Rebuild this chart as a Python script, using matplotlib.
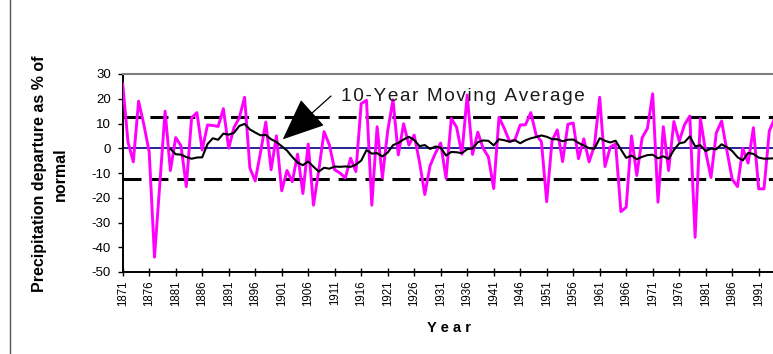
import numpy as np
import pandas as pd
import matplotlib
matplotlib.use('Agg')
import matplotlib.pyplot as plt
from matplotlib.lines import Line2D

# annual precipitation departure (% of normal), 1871-1994
years = list(range(1871, 1995))
departure = [
    26, 2.5, -5.5, 19, 9.5, -1.5, -44, -14.5, 15, -9,            # 1871-1880
    4.3, 1, -15.5, 12.3, 14.4, -0.7, 9.4, 9.2, 8.8, 16,          # 1881-1890
    0, 8.4, 12.3, 20.6, -8, -13.2, -1.7, 10.6, -8.7, 5,          # 1891-1900
    -17.2, -9, -13.5, -2.4, -18.3, 1.7, -23, -8.8, 6.7, 1.3,     # 1901-1910
    -8.7, -10, -12, -4, -9.4, 18, 19.4, -23, 8.7, -12,           # 1911-1920
    7, 19.6, -2.7, 9.9, 1.3, 5.3, -5.5, -18.7, -7, -2,           # 1921-1930
    2.1, -12.2, 12, 8.5, -2.4, 21.5, -2.5, 6.5, 0, -3.5,         # 1931-1940
    -16.3, 12.5, 8, 2.7, 3.4, 9.4, 9.5, 14.4, 5.4, 2.7,          # 1941-1950
    -21.6, 3, 7.4, -5.4, 9.7, 10.2, -4.2, 3.8, -5.5, 1,          # 1951-1960
    20.6, -7.4, 0.5, 1.8, -25.6, -23.8, 5, -11, 4.2, 8,          # 1961-1970
    22, -21.8, 8.7, -9, 10.8, 2.8, 9.5, 13, -36, 12,             # 1971-1980
    -1.5, -11.8, 6.2, 11, -1, -12.5, -15.5, 0, -6, 8.3,          # 1981-1990
    -16.4, -16.4, 7, 12,                                         # 1991-1994
]
band = 12.5          # dashed reference lines at +/- this value
ma_window = 10       # 10-year moving average
xtick_years = list(range(1871, 1992, 5))
yticks = list(range(-50, 31, 10))
ma_label = '10-Year Moving Average'

plt.rcParams['font.family'] = 'Liberation Sans'

df = pd.DataFrame({'year': years, 'dep': departure})
df['ma'] = df['dep'].rolling(ma_window).mean()

W, H = 773, 354
fig = plt.figure(figsize=(W / 100, H / 100), dpi=100)
ax = fig.add_axes([122.7 / W, 82 / H, 651.9 / W, 198 / H])

ax.axhline(0, color='#000080', lw=1.2, zorder=1)
for v in (band, -band):
    ax.axhline(v, color='black', lw=2.2, dashes=(5.9, 2.9), zorder=2)
ax.plot(df['year'], df['dep'], color='#FF00FF', lw=2.1, zorder=3)
ax.plot(df['year'], df['ma'], color='black', lw=1.5, zorder=4)

ax.annotate('', xy=(1901.2, 3.6), xytext=(1910.3, 21.1),
            arrowprops=dict(arrowstyle='-|>,head_length=2.7,head_width=1.15',
                            mutation_scale=10, color='black', lw=0.9,
                            shrinkA=0, shrinkB=0), zorder=5)
# spaced out a little, like the original
ax.text(1912.2, 21.0, '\u200a'.join(ma_label), ha='left', va='center',
        fontsize=13.7, family=['Liberation Sans', 'DejaVu Sans'],
        color='#1a1a1a', zorder=5)

ax.set_xlim(1871, 1994)
ax.set_ylim(-50, 30)
ax.set_xticks(xtick_years)
ax.set_xticklabels([str(y) for y in xtick_years], rotation=90, fontsize=8.3)
ax.set_yticks(yticks)
ax.set_yticklabels([str(v) for v in yticks], fontsize=9.5)
ax.tick_params(axis='x', direction='inout', length=6, width=1, pad=3)
ax.tick_params(axis='y', direction='out', length=3.5, width=1, pad=5)

for s in ('left', 'bottom'):
    ax.spines[s].set_color('black')
    ax.spines[s].set_linewidth(1.4)
ax.spines['top'].set_color('#808080')
ax.spines['top'].set_linewidth(1.5)
ax.spines['right'].set_visible(False)

fig.text(50 / W, 1 - 174 / H, 'Precipitation departure as % of\nnormal',
         rotation=90, ha='center', va='center', multialignment='center',
         linespacing=1.5, fontsize=11.5, fontweight='bold')
fig.text(449 / W, 1 - 328 / H, 'Y e a r', ha='center', va='center',
         fontsize=10.5, fontweight='bold')

# chart border on the left
fig.add_artist(Line2D([10 / W, 10 / W], [0, 1], color='#555555', lw=1))

fig.savefig('out.png', dpi=100)
